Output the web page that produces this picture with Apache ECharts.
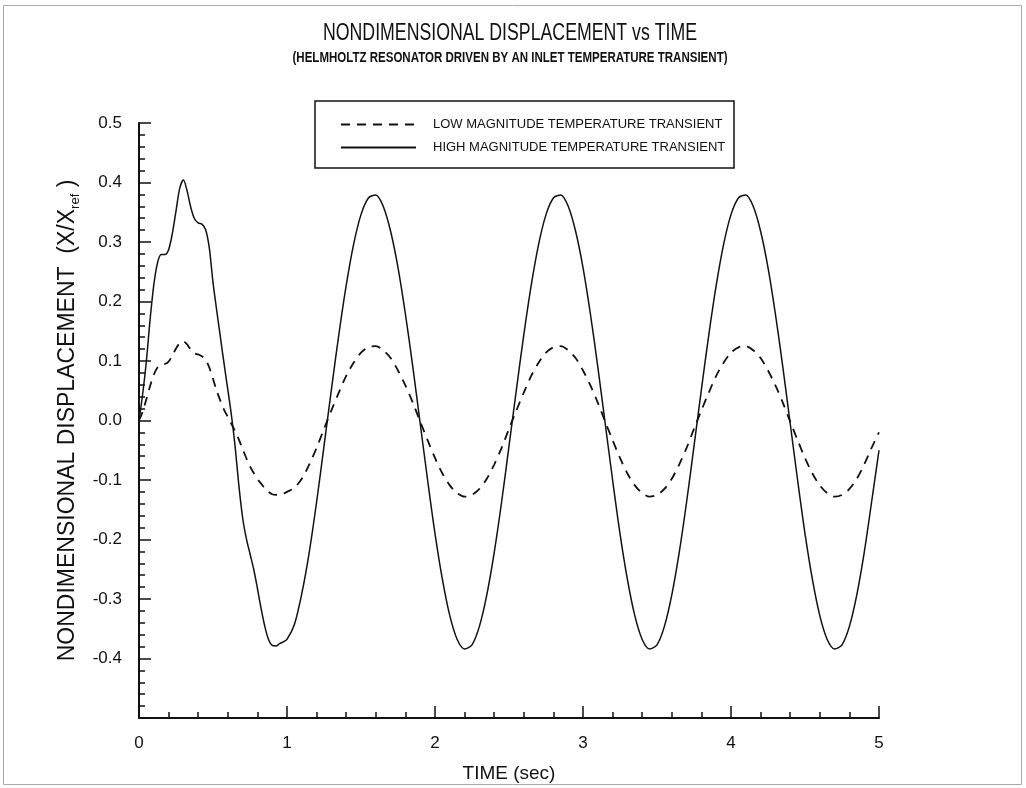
<!DOCTYPE html>
<html>
<head>
<meta charset="utf-8">
<script src="https://cdn.jsdelivr.net/npm/echarts@6/dist/echarts.min.js"></script>
<style>
html,body{margin:0;padding:0;background:#fff;}
#chart{width:1026px;height:788px;}
</style>
</head>
<body>
<div id="chart"></div>
<script>
const titleText = 'NONDIMENSIONAL DISPLACEMENT vs TIME';
const subtitleText = '(HELMHOLTZ RESONATOR DRIVEN BY AN INLET TEMPERATURE TRANSIENT)';
const seriesNames = ['LOW MAGNITUDE TEMPERATURE TRANSIENT', 'HIGH MAGNITUDE TEMPERATURE TRANSIENT'];

const time = [
  0, 0.025, 0.05, 0.075, 0.1, 0.125, 0.15, 0.175, 0.2, 0.225,
  0.25, 0.275, 0.3, 0.325, 0.35, 0.375, 0.4, 0.425, 0.45, 0.475,
  0.5, 0.525, 0.55, 0.575, 0.6, 0.625, 0.65, 0.675, 0.7, 0.725,
  0.75, 0.775, 0.8, 0.825, 0.85, 0.875, 0.9, 0.925, 0.95, 0.975,
  1.0, 1.05, 1.1, 1.15, 1.2, 1.25, 1.3, 1.35, 1.4, 1.45,
  1.5, 1.55, 1.6, 1.65, 1.7, 1.75, 1.8, 1.85, 1.9, 1.95,
  2.0, 2.05, 2.1, 2.15, 2.2, 2.25, 2.3, 2.35, 2.4, 2.45,
  2.5, 2.55, 2.6, 2.65, 2.7, 2.75, 2.8, 2.85, 2.9, 2.95,
  3.0, 3.05, 3.1, 3.15, 3.2, 3.25, 3.3, 3.35, 3.4, 3.45,
  3.5, 3.55, 3.6, 3.65, 3.7, 3.75, 3.8, 3.85, 3.9, 3.95,
  4.0, 4.05, 4.1, 4.15, 4.2, 4.25, 4.3, 4.35, 4.4, 4.45,
  4.5, 4.55, 4.6, 4.65, 4.7, 4.75, 4.8, 4.85, 4.9, 4.95,
  5.0
];

const lowValues = [
  0, 0.015, 0.036, 0.058, 0.077, 0.089, 0.094, 0.095, 0.099, 0.109,
  0.121, 0.130, 0.133, 0.128, 0.119, 0.113, 0.111, 0.108, 0.102, 0.089,
  0.070, 0.050, 0.033, 0.018, 0.006, -0.006, -0.018, -0.032, -0.048, -0.063,
  -0.077, -0.088, -0.098, -0.106, -0.114, -0.120, -0.124, -0.125, -0.125, -0.123,
  -0.120, -0.113, -0.098, -0.074, -0.046, -0.014, 0.017, 0.047, 0.075, 0.097,
  0.114, 0.123, 0.125, 0.118, 0.105, 0.084, 0.059, 0.030, -0.002, -0.033,
  -0.063, -0.089, -0.109, -0.122, -0.128, -0.125, -0.115, -0.098, -0.074, -0.046,
  -0.014, 0.017, 0.047, 0.075, 0.097, 0.114, 0.123, 0.125, 0.118, 0.105,
  0.084, 0.059, 0.030, -0.002, -0.033, -0.063, -0.089, -0.109, -0.122, -0.128,
  -0.125, -0.115, -0.098, -0.074, -0.046, -0.014, 0.017, 0.047, 0.075, 0.097,
  0.114, 0.123, 0.125, 0.118, 0.105, 0.084, 0.059, 0.030, -0.002, -0.033,
  -0.063, -0.089, -0.109, -0.122, -0.128, -0.125, -0.115, -0.098, -0.074, -0.046,
  -0.020
];

const highValues = [
  0, 0.045, 0.100, 0.170, 0.228, 0.265, 0.279, 0.279, 0.287, 0.314,
  0.352, 0.390, 0.404, 0.386, 0.358, 0.339, 0.332, 0.330, 0.321, 0.290,
  0.232, 0.185, 0.140, 0.095, 0.052, 0.008, -0.045, -0.110, -0.163, -0.198,
  -0.224, -0.250, -0.282, -0.316, -0.346, -0.368, -0.378, -0.379, -0.375, -0.372,
  -0.368, -0.343, -0.291, -0.222, -0.137, -0.043, 0.052, 0.144, 0.227, 0.296,
  0.346, 0.374, 0.379, 0.360, 0.318, 0.257, 0.179, 0.090, -0.005, -0.100,
  -0.190, -0.267, -0.328, -0.368, -0.384, -0.377, -0.346, -0.293, -0.222, -0.137,
  -0.043, 0.052, 0.144, 0.227, 0.296, 0.346, 0.374, 0.379, 0.360, 0.318,
  0.257, 0.179, 0.090, -0.005, -0.100, -0.190, -0.267, -0.328, -0.368, -0.384,
  -0.377, -0.346, -0.293, -0.222, -0.137, -0.043, 0.052, 0.144, 0.227, 0.296,
  0.346, 0.374, 0.379, 0.360, 0.318, 0.257, 0.179, 0.090, -0.005, -0.100,
  -0.190, -0.267, -0.328, -0.368, -0.384, -0.377, -0.346, -0.293, -0.222, -0.137,
  -0.050
];

const lowData = time.map((t, i) => [t, lowValues[i]]);
const highData = time.map((t, i) => [t, highValues[i]]);

const FONT = '"Liberation Sans", Arial, Helvetica, sans-serif';
const INK = '#111';

// condensed-looking title text: measure natural width, then squeeze horizontally
const measureCtx = document.createElement('canvas').getContext('2d');
function squeeze(text, font, targetWidth) {
  measureCtx.font = font;
  return targetWidth / measureCtx.measureText(text).width;
}
const titleFont = 'normal 23px ' + FONT;
const subFont = 'bold 14px ' + FONT;
const titleScale = squeeze(titleText, titleFont, 374);
const subScale = squeeze(subtitleText, subFont, 435);

const chart = echarts.init(document.getElementById('chart'), null, { renderer: 'canvas' });
chart.setOption({
  animation: false,
  backgroundColor: '#fff',
  grid: { left: 139, right: 147, top: 123, bottom: 66.5, containLabel: false },
  legend: {
    orient: 'vertical', left: 340, top: 118, itemWidth: 75, itemHeight: 14, itemGap: 10,
    padding: 0, selectedMode: false,
    data: seriesNames,
    itemStyle: { opacity: 0, color: 'transparent', borderColor: 'transparent', borderWidth: 0 },
    textStyle: { fontFamily: FONT, fontSize: 13, color: INK, padding: [0, 0, 0, 12] }
  },
  graphic: [
    { type: 'text', x: 510, y: 34, scaleX: titleScale, silent: true,
      style: { text: titleText, font: titleFont, fill: INK, textAlign: 'center', textVerticalAlign: 'middle' } },
    { type: 'text', x: 510, y: 58.5, scaleX: subScale, silent: true,
      style: { text: subtitleText, font: subFont, fill: INK, textAlign: 'center', textVerticalAlign: 'middle' } },
    { type: 'rect', shape: { x: 315, y: 101, width: 419, height: 67 }, silent: true,
      style: { fill: 'transparent', stroke: INK, lineWidth: 1.5 }, z: 10 },
    { type: 'rect', shape: { x: 3.5, y: 5.5, width: 1018, height: 779 }, silent: true,
      style: { fill: 'transparent', stroke: '#aaa', lineWidth: 1 }, z: 0 }
  ],
  xAxis: {
    type: 'value', min: 0, max: 5, interval: 1,
    name: 'TIME (sec)', nameLocation: 'middle', nameGap: 46,
    nameTextStyle: { fontFamily: FONT, fontSize: 19, color: INK },
    axisLine: { onZero: false, lineStyle: { color: INK, width: 2 } },
    axisTick: { inside: true, length: 12, lineStyle: { color: INK, width: 1.5 } },
    minorTick: { show: true, splitNumber: 5, length: 6, lineStyle: { color: INK, width: 1.5 } },
    axisLabel: { fontFamily: FONT, fontSize: 17, color: INK, margin: 17 },
    splitLine: { show: false }
  },
  yAxis: {
    type: 'value', min: -0.5, max: 0.5, interval: 0.1,
    name: '{a|NONDIMENSIONAL DISPLACEMENT  (X/X}{b|ref}{a| )}',
    nameLocation: 'middle', nameGap: 57, nameRotate: 90,
    nameTextStyle: {
      color: INK,
      rich: {
        a: { fontFamily: FONT, fontSize: 23, color: INK, lineHeight: 28, verticalAlign: 'middle' },
        b: { fontFamily: FONT, fontSize: 13, color: INK, lineHeight: 13, verticalAlign: 'bottom' }
      }
    },
    axisLine: { onZero: false, lineStyle: { color: INK, width: 2 } },
    axisTick: { inside: true, length: 12, lineStyle: { color: INK, width: 1.5 } },
    minorTick: { show: true, splitNumber: 5, length: 6, lineStyle: { color: INK, width: 1.5 } },
    axisLabel: {
      fontFamily: FONT, fontSize: 17, color: INK, margin: 17,
      formatter: function (v) {
        if (Math.abs(v + 0.5) < 1e-6) return '';
        if (Math.abs(v) < 1e-9) return '0.0';
        return v.toFixed(1);
      }
    },
    splitLine: { show: false }
  },
  series: [
    { name: seriesNames[0], type: 'line', data: lowData, symbol: 'none', smooth: 0.3,
      lineStyle: { color: INK, width: 1.8, type: [9, 7] }, itemStyle: { color: INK } },
    { name: seriesNames[1], type: 'line', data: highData, symbol: 'none', smooth: 0.3,
      lineStyle: { color: INK, width: 1.5, type: 'solid' }, itemStyle: { color: INK } }
  ]
});
</script>
</body>
</html>
